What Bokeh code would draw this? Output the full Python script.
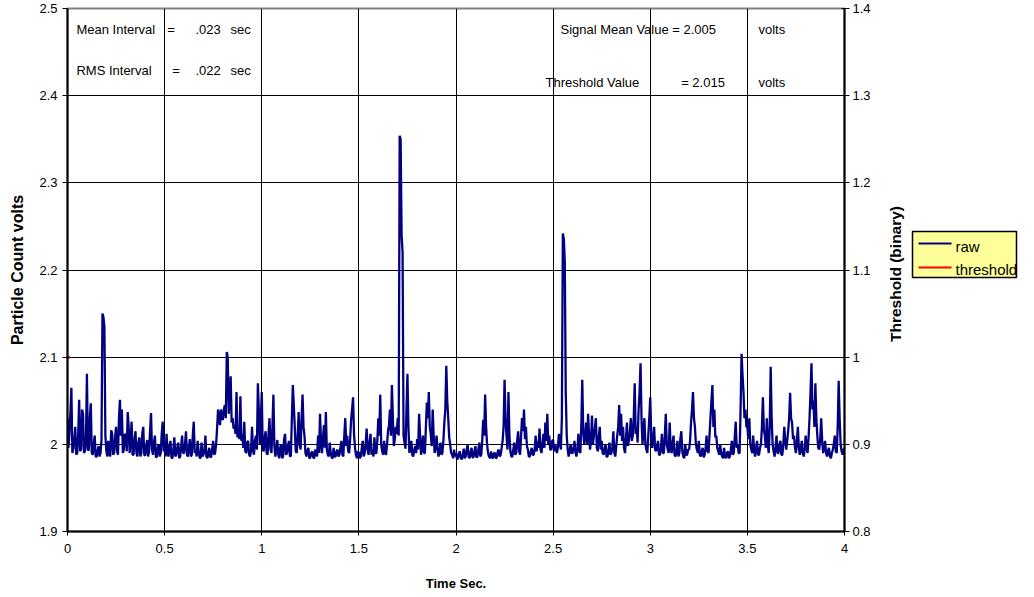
from bokeh.plotting import figure
from bokeh.layouts import row
from bokeh.models import Range1d, LinearAxis, FixedTicker, Label
from bokeh.core.properties import value
from bokeh.embed import file_html
from bokeh.resources import INLINE
import math

# ---- data ----
dt = 0.005
raw = [
    2.030, 1.996, 2.012, 2.036, 2.065, 1.990, 1.995, 2.004, 2.020, 1.988, 1.990, 2.010, 2.051, 1.992, 1.994, 2.040, 2.035, 1.990, 1.992, 2.004,
    2.081, 1.994, 1.993, 2.030, 2.047, 1.990, 1.988, 2.000, 2.010, 1.986, 1.986, 1.992, 1.998, 1.986, 1.990, 2.005, 2.150, 2.146, 2.135, 2.010,
    1.992, 1.986, 2.004, 1.990, 1.986, 2.016, 2.012, 1.988, 1.990, 2.008, 2.020, 1.992, 1.988, 2.030, 2.051, 2.010, 2.040, 1.990, 1.994, 2.012,
    2.010, 1.992, 2.037, 2.020, 1.990, 2.004, 2.026, 1.988, 1.988, 2.006, 2.015, 1.990, 1.986, 2.002, 2.008, 1.986, 1.990, 2.012, 2.020, 1.988,
    1.987, 1.998, 2.005, 1.986, 1.992, 2.015, 2.036, 1.994, 1.988, 2.002, 2.010, 1.985, 1.986, 1.996, 2.000, 1.986, 1.990, 2.012, 2.026, 1.992,
    1.994, 1.986, 2.012, 1.990, 1.986, 1.998, 2.004, 1.985, 1.984, 1.994, 2.008, 1.986, 1.988, 1.996, 2.002, 1.984, 1.986, 1.998, 2.010, 1.990,
    1.990, 2.000, 2.015, 1.988, 1.986, 1.996, 2.006, 1.986, 1.988, 2.010, 2.026, 1.990, 1.992, 1.986, 2.004, 1.992, 1.985, 1.984, 2.002, 1.986,
    1.988, 1.994, 2.010, 1.986, 1.984, 1.990, 1.996, 1.985, 1.986, 1.995, 2.004, 1.988, 1.990, 2.000, 2.018, 2.040, 2.030, 2.022, 2.040, 2.030,
    2.028, 2.040, 2.045, 2.030, 2.106, 2.100, 2.035, 2.050, 2.078, 2.025, 2.030, 2.018, 2.022, 2.012, 2.060, 2.008, 2.015, 2.006, 2.055, 2.004,
    2.012, 1.996, 2.026, 1.992, 1.990, 2.002, 2.004, 1.988, 1.986, 1.994, 2.020, 1.992, 1.988, 2.004, 2.010, 1.994, 2.070, 2.040, 2.000, 2.024,
    2.060, 1.994, 1.992, 2.008, 2.015, 1.990, 1.988, 2.012, 2.030, 1.994, 1.990, 2.020, 2.057, 1.998, 1.986, 1.994, 2.005, 1.988, 1.984, 1.996,
    2.000, 1.984, 1.986, 2.006, 2.012, 1.988, 1.990, 1.998, 2.004, 1.986, 1.987, 2.030, 2.068, 2.045, 2.020, 1.992, 1.990, 2.010, 2.037, 2.000,
    1.994, 2.030, 2.057, 2.020, 2.010, 1.990, 1.986, 1.992, 1.996, 1.984, 1.985, 1.990, 1.992, 1.985, 1.984, 1.994, 1.990, 1.986, 2.010, 1.990,
    2.035, 2.002, 1.990, 2.006, 2.022, 1.996, 2.037, 1.994, 1.988, 1.986, 2.002, 1.990, 1.985, 1.984, 1.996, 1.986, 1.986, 1.992, 1.994, 1.986,
    1.988, 1.996, 2.004, 1.988, 1.986, 2.010, 2.030, 1.998, 2.010, 1.992, 1.990, 2.006, 2.028, 2.040, 2.054, 2.012, 1.996, 1.988, 1.984, 1.992,
    1.990, 1.984, 1.986, 1.996, 2.004, 1.986, 1.990, 2.000, 2.018, 1.994, 1.988, 2.002, 2.012, 1.988, 1.994, 1.986, 2.008, 1.990, 1.990, 2.004,
    2.030, 2.010, 2.057, 2.000, 1.992, 1.988, 2.004, 1.990, 1.988, 2.000, 2.015, 2.022, 2.040, 2.010, 2.068, 2.030, 1.998, 2.006, 2.020, 2.012,
    2.030, 2.010, 2.354, 2.350, 2.240, 2.220, 2.010, 2.002, 1.995, 2.040, 2.081, 2.020, 1.990, 1.996, 2.004, 1.988, 1.986, 1.994, 1.998, 1.990,
    2.006, 1.994, 2.035, 2.010, 1.988, 1.996, 2.010, 1.990, 1.990, 2.020, 2.048, 2.030, 2.060, 2.020, 2.012, 1.998, 2.040, 2.010, 1.990, 1.996,
    2.010, 1.994, 1.986, 1.992, 2.002, 1.988, 1.990, 2.004, 2.025, 2.040, 2.090, 2.050, 2.030, 2.008, 2.000, 1.990, 1.988, 1.984, 1.994, 1.986,
    1.990, 1.983, 1.984, 1.990, 1.992, 1.984, 1.983, 1.988, 1.995, 1.984, 1.986, 1.994, 2.000, 1.986, 1.984, 1.990, 1.996, 1.985, 1.985, 1.992,
    1.998, 1.985, 1.986, 1.994, 2.002, 1.986, 1.988, 2.004, 2.028, 2.010, 2.057, 2.020, 2.000, 1.990, 1.986, 1.984, 1.992, 1.985, 1.984, 1.990,
    1.990, 1.984, 1.985, 1.992, 1.994, 1.986, 1.988, 1.996, 2.004, 2.020, 2.074, 2.030, 2.010, 1.994, 2.060, 2.010, 1.992, 1.986, 1.986, 1.994,
    2.002, 1.988, 1.990, 2.004, 2.015, 1.992, 1.988, 2.010, 2.030, 2.015, 2.040, 2.006, 2.020, 1.998, 1.994, 1.986, 1.986, 1.992, 1.996, 1.988,
    1.988, 1.994, 2.010, 1.992, 2.004, 1.996, 2.018, 1.994, 1.990, 2.000, 2.012, 1.996, 2.025, 2.004, 2.035, 2.000, 2.010, 1.994, 1.994, 2.004,
    2.005, 1.992, 2.000, 1.994, 1.990, 1.998, 2.012, 2.000, 1.994, 2.030, 2.242, 2.236, 2.210, 2.060, 2.010, 1.994, 1.986, 1.992, 2.000, 1.990,
    1.990, 1.996, 2.004, 1.990, 1.986, 1.994, 2.012, 1.992, 1.990, 2.020, 2.074, 2.015, 2.000, 2.010, 2.025, 2.000, 2.035, 2.010, 1.994, 2.004,
    2.033, 2.000, 2.010, 2.018, 2.030, 1.996, 1.992, 2.008, 2.020, 1.994, 2.004, 1.990, 1.988, 1.994, 2.000, 1.986, 1.986, 1.994, 2.002, 1.988,
    1.990, 1.996, 2.015, 1.990, 1.986, 1.998, 2.010, 2.020, 2.045, 2.010, 2.035, 2.004, 2.020, 1.996, 1.990, 2.006, 2.025, 1.998, 2.005, 2.014,
    2.030, 2.004, 2.010, 2.030, 2.070, 2.012, 2.020, 2.002, 2.040, 2.060, 2.093, 2.030, 2.000, 2.016, 2.030, 2.000, 1.994, 1.990, 2.010, 2.030,
    2.054, 2.010, 1.996, 2.006, 2.020, 1.994, 1.992, 1.998, 2.004, 1.988, 1.988, 1.996, 2.012, 1.990, 1.990, 2.010, 2.035, 2.000, 1.994, 1.990,
    2.025, 1.996, 1.990, 2.002, 2.010, 1.988, 1.986, 1.992, 2.004, 1.986, 1.990, 2.006, 2.015, 1.992, 1.986, 1.984, 2.000, 1.988, 1.988, 1.994,
    1.994, 2.004, 2.025, 2.040, 2.060, 2.030, 2.020, 2.000, 1.994, 1.990, 2.004, 1.988, 1.986, 1.992, 1.996, 1.985, 1.988, 1.996, 2.010, 1.992,
    1.990, 2.010, 2.030, 2.050, 2.068, 2.020, 2.040, 2.008, 2.010, 1.996, 1.992, 1.988, 2.000, 1.990, 1.986, 1.984, 1.996, 1.986, 1.984, 1.990,
    1.992, 1.984, 1.986, 1.994, 2.004, 1.988, 1.990, 2.008, 2.026, 1.996, 2.000, 1.990, 1.990, 2.040, 2.104, 2.080, 2.060, 2.030, 2.040, 2.020,
    2.020, 2.006, 2.030, 2.000, 1.994, 1.990, 2.010, 1.992, 1.986, 1.996, 2.004, 1.988, 1.988, 1.996, 2.000, 2.020, 2.054, 2.016, 2.010, 1.996,
    2.030, 2.000, 1.990, 2.020, 2.089, 2.030, 2.000, 1.992, 1.986, 1.996, 2.010, 1.990, 1.990, 2.000, 2.004, 1.988, 1.988, 2.000, 2.020, 2.004,
    1.994, 2.004, 2.015, 2.030, 2.059, 2.030, 2.025, 2.006, 2.010, 1.996, 1.990, 2.004, 2.020, 1.996, 1.988, 1.994, 2.004, 1.990, 1.986, 1.994,
    2.010, 1.996, 1.990, 2.008, 2.030, 2.060, 2.093, 2.040, 2.050, 2.020, 2.070, 2.030, 2.010, 1.996, 1.994, 2.006, 2.030, 2.004, 1.990, 1.996,
    2.004, 1.990, 1.986, 1.992, 1.996, 1.986, 1.984, 1.990, 1.994, 2.000, 2.010, 1.992, 1.990, 2.020, 2.073, 2.030, 2.000, 1.992, 1.988, 1.994,
    1.995,
]
time = [i * dt for i in range(len(raw))]

threshold_t = [0.0, 0.012]
threshold_v = [1.0, 1.0]

x_ticks = [0, 0.5, 1, 1.5, 2, 2.5, 3, 3.5, 4]
x_labels = ["0", "0.5", "1", "1.5", "2", "2.5", "3", "3.5", "4"]
y_ticks = [1.9, 2.0, 2.1, 2.2, 2.3, 2.4, 2.5]
y_labels = ["1.9", "2", "2.1", "2.2", "2.3", "2.4", "2.5"]
r_ticks = [0.8, 0.9, 1.0, 1.1, 1.2, 1.3, 1.4]
r_labels = ["0.8", "0.9", "1", "1.1", "1.2", "1.3", "1.4"]

legend_labels = ["raw", "threshold"]
NAVY = "#000080"
legend_colors = [NAVY, "red"]

FONT = "Liberation Sans"

p = figure(
    output_backend="svg", toolbar_location=None,
    x_range=Range1d(0, 4), y_range=Range1d(1.9, 2.5),
    frame_width=777, frame_height=523,
    min_border_left=67, min_border_right=36, min_border_top=8, min_border_bottom=50,
)
p.background_fill_color = "white"
p.border_fill_color = "white"
p.outline_line_color = "#808080"
p.outline_line_width = 2
p.extra_y_ranges = {"right": Range1d(0.8, 1.4)}

for g in (p.xgrid, p.ygrid):
    g.grid_line_color = "black"
    g.grid_line_width = 1
    g.grid_line_alpha = 1
p.xgrid.ticker = FixedTicker(ticks=x_ticks)
p.ygrid.ticker = FixedTicker(ticks=y_ticks)

def style_axis(ax):
    ax.axis_line_color = "black"
    ax.major_tick_line_color = "black"
    ax.minor_tick_line_color = None
    ax.major_label_text_font = FONT
    ax.major_label_text_font_size = "13px"
    ax.major_label_text_color = "black"
    ax.axis_label_text_font = FONT
    ax.axis_label_text_font_size = "13px"
    ax.axis_label_text_font_style = "bold"
    ax.axis_label_text_color = "black"

xa = p.xaxis[0]
xa.ticker = FixedTicker(ticks=x_ticks)
xa.major_label_overrides = dict(zip(x_ticks, x_labels))
xa.axis_label = "Time Sec."
style_axis(xa)
xa.axis_line_width = 2
xa.major_tick_out = 4
xa.major_tick_in = 0
xa.major_label_standoff = 8
xa.axis_label_standoff = 20

ya = p.yaxis[0]
ya.ticker = FixedTicker(ticks=y_ticks)
ya.major_label_overrides = dict(zip(y_ticks, y_labels))
ya.axis_label = "Particle Count volts"
style_axis(ya)
ya.axis_label_text_font_size = "16px"
ya.axis_line_width = 2
ya.major_tick_out = 5
ya.major_tick_in = 0
ya.major_label_standoff = 5
ya.axis_label_standoff = 10

ra = LinearAxis(y_range_name="right", ticker=FixedTicker(ticks=r_ticks))
ra.major_label_overrides = dict(zip(r_ticks, r_labels))
style_axis(ra)
ra.axis_line_width = 2
ra.major_tick_out = 5
ra.major_tick_in = 3
ra.major_label_standoff = 3
p.add_layout(ra, "right")

p.line(time, raw, line_color=legend_colors[0], line_width=2.3)
p.line(threshold_t, threshold_v, y_range_name="right", line_color=legend_colors[1], line_width=3)

def txt(x, y, s):
    p.add_layout(Label(x=x, y=y, text=s, text_font=FONT, text_font_size="13px",
                       text_color="black", text_baseline="middle", text_align="left"))

txt(0.046, 2.476, "Mean Interval")
txt(0.513, 2.476, "=")
txt(0.659, 2.476, ".023")
txt(0.839, 2.476, "sec")
txt(0.046, 2.429, "RMS Interval")
txt(0.539, 2.429, "=")
txt(0.659, 2.429, ".022")
txt(0.839, 2.429, "sec")
txt(2.538, 2.476, "Signal Mean Value = 2.005")
txt(3.557, 2.476, "volts")
txt(2.461, 2.415, "Threshold Value")
txt(3.159, 2.415, "= 2.015")
txt(3.557, 2.415, "volts")

# ---- side panel (pixel-like coordinates): right-axis title and legend ----
SW, SH = 138, 581
side = figure(
    frame_width=SW, frame_height=SH, output_backend="svg", toolbar_location=None,
    x_range=Range1d(0, SW), y_range=Range1d(SH, 0),
    x_axis_type=None, y_axis_type=None,
    min_border_left=0, min_border_right=0, min_border_top=0, min_border_bottom=0,
)
side.outline_line_color = None
side.background_fill_color = "white"
side.border_fill_color = "white"
side.xgrid.visible = False
side.ygrid.visible = False

side.text(x=[15], y=[265.5], text=["Threshold (binary)"], angle=math.pi / 2,
          text_font=value(FONT), text_font_size="15.5px", text_font_style="bold",
          text_color="black", text_align="center", text_baseline="middle")

# legend box
side.quad(left=32, right=136, top=223, bottom=269,
          fill_color="#FFFF99", line_color="black", line_width=1.5)
side.segment(x0=[38, 38], y0=[235, 259], x1=[71, 71], y1=[235, 259],
             line_color=legend_colors, line_width=2)
side.text(x=[75, 75], y=[238, 261], text=legend_labels,
          text_font=value(FONT), text_font_size="15px", text_color="black",
          text_align="left", text_baseline="middle")

layout = row(p, side)
open("out.html", "w").write(file_html(layout, INLINE))
